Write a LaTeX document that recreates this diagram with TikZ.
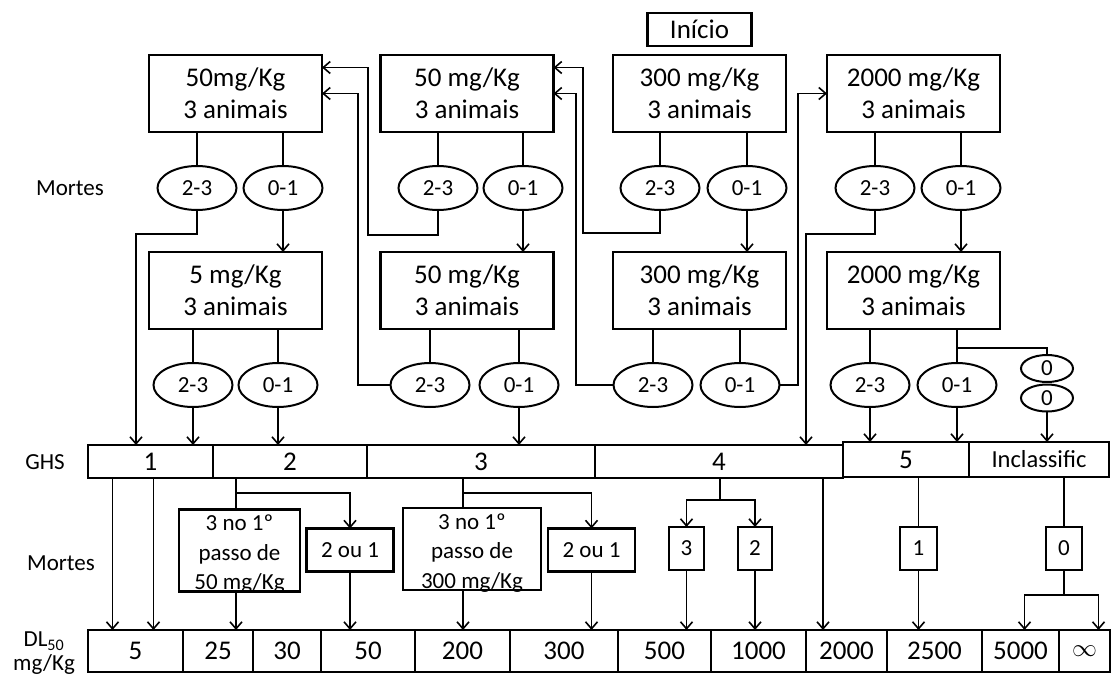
\documentclass[tikz,border=0pt]{standalone}
\usepackage{fontspec}
\setmainfont{Carlito}
\usepackage{tikz}
\usetikzlibrary{arrows.meta,positioning,shapes.geometric}

\newcommand{\txtbig}{\fontsize{27}{32}\selectfont}
\newcommand{\txtsmall}{\fontsize{23}{29.5}\selectfont}

\begin{document}
\begin{tikzpicture}[
    x = 1pt, y = -1pt,
    every node/.style = {font=\txtsmall, inner sep=0pt, outer sep=0pt},
    dose/.style = {
        rectangle,
        draw,
        line width=2.4pt,
        align=center,
        font=\txtbig,
        minimum width=173pt,
        minimum height=77pt
    },
    deaths/.style = {
        ellipse,
        draw,
        line width=2pt,
        minimum width=79pt,
        minimum height=44pt
    },
    zero/.style = {ellipse, draw, line width=2pt, minimum width=52pt, minimum height=27pt},
    ghs/.style = {rectangle, draw, line width=2.4pt, font=\txtbig, minimum height=33pt},
    dl/.style = {rectangle, draw, line width=2.4pt, font=\txtbig, minimum height=42pt},
    result/.style = {rectangle, draw, line width=2.4pt, minimum height=43pt},
    firstdose/.style = {
        rectangle,
        draw,
        line width=2.4pt,
        align=center,
        text height=80pt,
        text depth=2pt
    },
    arrow/.style = {
        -{Straight Barb[length=7pt,width=12pt]},
        line width=1.6pt
    },
    link/.style = {line width=1.6pt}
]

\useasboundingbox (0,0) rectangle (1114,677);
\fill[white] (0,0) rectangle (1114,677);

\node[dose] (a1) at (235.5,93.5) {50mg/Kg\\3 animais};
\node[dose] (b1) at (467,93.5) {50 mg/Kg\\3 animais};
\node[dose] (c1) at (699.5,93.5) {300 mg/Kg\\3 animais};
\node[dose] (d1) at (913.5,93.5) {2000 mg/Kg\\3 animais};
\node[draw, line width=2.4pt, font=\txtbig, minimum width=104pt, minimum height=33pt, above=9pt of c1] (start) {Início};

\node[dose, below=120pt of a1] (a2) {5 mg/Kg\\3 animais};
\node[dose, below=120pt of b1] (b2) {50 mg/Kg\\3 animais};
\node[dose, below=120pt of c1] (c2) {300 mg/Kg\\3 animais};
\node[dose, below=120pt of d1] (d2) {2000 mg/Kg\\3 animais};

\node (mortes1) at (70,188) {Mortes};
\node[deaths] (a1hi) at (197,188) {2-3};
\node[deaths] (a1lo) at (283,188) {0-1};
\node[deaths] (b1hi) at (438,188) {2-3};
\node[deaths] (b1lo) at (523,188) {0-1};
\node[deaths] (c1hi) at (660,188) {2-3};
\node[deaths] (c1lo) at (747,188) {0-1};
\node[deaths] (d1hi) at (875,188) {2-3};
\node[deaths] (d1lo) at (961,188) {0-1};

\node[deaths] (a2hi) at (193,385) {2-3};
\node[deaths] (a2lo) at (278,385) {0-1};
\node[deaths] (b2hi) at (430,385) {2-3};
\node[deaths] (b2lo) at (519,385) {0-1};
\node[deaths] (c2hi) at (653,385) {2-3};
\node[deaths] (c2lo) at (740,385) {0-1};
\node[deaths] (d2hi) at (870,385) {2-3};
\node[deaths] (d2lo) at (957,385) {0-1};
\node[zero] (z1) at (1047,368.5) {0};
\node[zero] (z2) at (1047,398) {0};

\node (ghslabel) at (45,462) {GHS};
\node[ghs, minimum width=125pt] (g1) at (150.5,461.5) {1};
\node[ghs, minimum width=154pt, right=0pt of g1] (g2) {2};
\node[ghs, minimum width=228pt, right=0pt of g2] (g3) {3};
\node[ghs, minimum width=248pt, right=0pt of g3] (g4) {4};
\node[ghs, minimum width=126pt, minimum height=35pt, line width=2.8pt, right=0pt of g4, yshift=2pt] (g5) {5};
\node[ghs, minimum width=140pt, minimum height=35pt, line width=2.8pt, font=\fontsize{24.5}{29}\selectfont, right=0pt of g5] (g6) {Inclassific};

\node (mortes2) at (61,563) {Mortes};
\node[firstdose, minimum width=121pt] (m50) at (239.5,550.5) {3 no 1º\\passo de\\50 mg/Kg};
\node[firstdose, minimum width=138pt] (m300) at (472,549) {3 no 1º\\passo de\\300 mg/Kg};
\node[result, minimum width=87pt] (or2) at (350,550) {2 ou 1};
\node[result, minimum width=87pt] (or3) at (591.5,550) {2 ou 1};
\node[result, minimum width=35pt] (n3) at (686.5,548.5) {3};
\node[result, minimum width=34pt] (n2) at (755,548.5) {2};
\node[result, minimum width=37pt] (n1) at (918.5,548.5) {1};
\node[result, minimum width=36pt] (n0) at (1064,548.5) {0};

\node[align=center] (dllabel) at (44,653.5) {DL\textsubscript{50}\\[-5.5pt]mg/Kg};
\node[dl, minimum width=95pt] (dl5) at (135.5,651) {5};
\node[dl, minimum width=70pt, right=0pt of dl5] (dl25) {25};
\node[dl, minimum width=68pt, right=0pt of dl25] (dl30) {30};
\node[dl, minimum width=94pt, right=0pt of dl30] (dl50) {50};
\node[dl, minimum width=95pt, right=0pt of dl50] (dl200) {200};
\node[dl, minimum width=108pt, right=0pt of dl200] (dl300) {300};
\node[dl, minimum width=93pt, right=0pt of dl300] (dl500) {500};
\node[dl, minimum width=95pt, right=0pt of dl500] (dl1000) {1000};
\node[dl, minimum width=81pt, right=0pt of dl1000] (dl2000) {2000};
\node[dl, minimum width=95pt, right=0pt of dl2000] (dl2500) {2500};
\node[dl, minimum width=77pt, right=0pt of dl2500] (dl5000) {5000};
\node[dl, minimum width=51pt, right=0pt of dl5000] (dlinf) {$\infty$};

\coordinate (ka1) at (136,234);
\coordinate (kb1) at (368,235);
\coordinate (kb2) at (358,93.5);
\coordinate (kc1) at (583,233);
\coordinate (kc2) at (576,93.5);
\coordinate (kd2) at (798,93.5);
\coordinate (kd1) at (806,234);
\coordinate (dsplit) at (957,348);
\coordinate (j2) at (236,493);
\coordinate (j3) at (463,493);
\coordinate (j4) at (720,500);
\coordinate (j6) at (1064,595);

\draw[link] (a1hi) -- (a1hi |- a1.south)  (a1lo) -- (a1lo |- a1.south)
            (b1hi) -- (b1hi |- b1.south)  (b1lo) -- (b1lo |- b1.south)
            (c1hi) -- (c1hi |- c1.south)  (c1lo) -- (c1lo |- c1.south)
            (d1hi) -- (d1hi |- d1.south)  (d1lo) -- (d1lo |- d1.south)
            (a2hi) -- (a2hi |- a2.south)  (a2lo) -- (a2lo |- a2.south)
            (b2hi) -- (b2hi |- b2.south)  (b2lo) -- (b2lo |- b2.south)
            (c2hi) -- (c2hi |- c2.south)  (c2lo) -- (c2lo |- c2.south)
            (d2hi) -- (d2hi |- d2.south)  (d2lo) -- (d2lo |- d2.south);
\draw[link] (dsplit) -| (z1);

\draw[arrow] (a1lo) -- (a1lo |- a2.north);
\draw[arrow] (b1lo) -- (b1lo |- b2.north);
\draw[arrow] (c1lo) -- (c1lo |- c2.north);
\draw[arrow] (d1lo) -- (d1lo |- d2.north);

\draw[arrow] (a1hi) |- (ka1) -- (ka1 |- g1.north);
\draw[arrow] (b1hi) |- (kb1) |- ([yshift=26pt]a1.east);
\draw[arrow] (b2hi) -| (kb2) -- (a1.east);
\draw[arrow] (c1hi) |- (kc1) |- ([yshift=26pt]b1.east);
\draw[arrow] (c2hi) -| (kc2) -- (b1.east);
\draw[arrow] (c2lo) -| (kd2) -- (d1.west);
\draw[arrow] (d1hi) |- (kd1) -- (kd1 |- g4.north);

\draw[arrow] (a2hi) -- (a2hi |- g1.north);
\draw[arrow] (a2lo) -- (a2lo |- g2.north);
\draw[arrow] (b2lo) -- (b2lo |- g3.north);
\draw[arrow] (d2hi) -- (d2hi |- g5.north);
\draw[arrow] (d2lo) -- (d2lo |- g5.north);
\draw[arrow] (z2) -- (z2 |- g6.north);

\draw[arrow] ([xshift=-38pt]g1.south) -- ([xshift=-38pt]g1.south |- dl5.north);
\draw[arrow] ([xshift=3pt]g1.south) -- ([xshift=3pt]g1.south |- dl5.north);

\draw[link] (g2.south -| j2) -- (m50.north -| j2);
\draw[arrow] (j2) -| (or2);
\draw[arrow] (m50.south -| j2) -- (j2 |- dl25.north);
\draw[arrow] (or2) -- (or2 |- dl50.north);

\draw[link] (g3.south -| j3) -- (m300.north -| j3);
\draw[arrow] (j3) -| (or3);
\draw[arrow] (m300.south -| j3) -- (j3 |- dl200.north);
\draw[arrow] (or3) -- (or3 |- dl300.north);

\draw[link] (g4.south -| j4) -- (j4);
\draw[arrow] (j4) -| (n3);
\draw[arrow] (j4) -| (n2);
\draw[arrow] (n3) -- (n3 |- dl500.north);
\draw[arrow] (n2) -- (n2 |- dl1000.north);
\draw[arrow] ([xshift=104pt]g4.south) -- ([xshift=104pt]g4.south |- dl2000.north);

\draw[link] (g5.south -| n1) -- (n1);
\draw[arrow] (n1) -- (n1 |- dl2500.north);

\draw[link] (g6.south -| n0) -- (n0);
\draw[link] (n0) -- (j6);
\draw[arrow] (j6) -| ([xshift=4pt]dl5000.north);
\draw[arrow] (j6) -| ([xshift=14pt]dlinf.north);

\end{tikzpicture}
\end{document}
